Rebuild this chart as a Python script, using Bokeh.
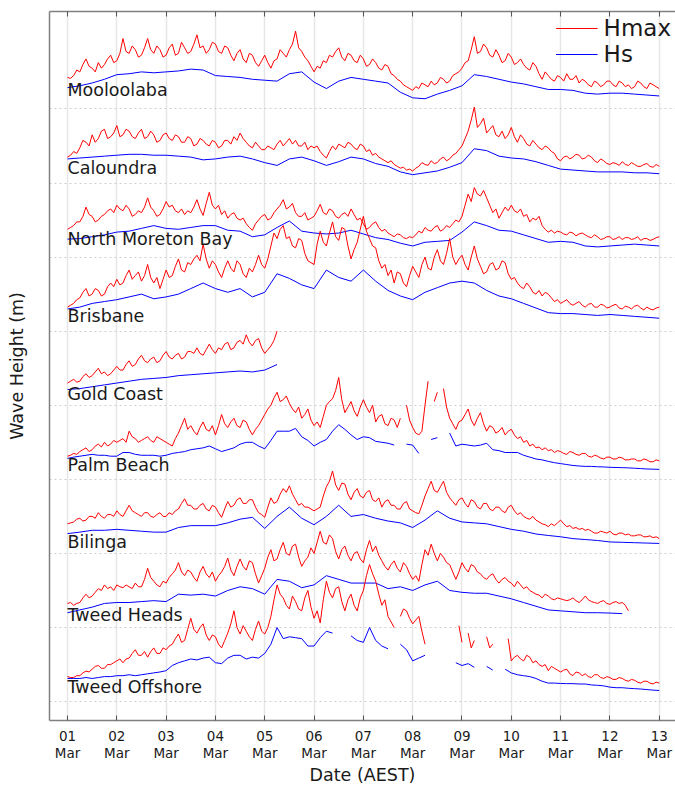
import numpy as np
from bokeh.plotting import figure
from bokeh.models import FixedTicker, LinearAxis, Range1d, CustomLabelingPolicy
from bokeh.core.properties import value
from bokeh.embed import file_html
from bokeh.resources import INLINE

nan = float("nan")

STATIONS = ["Mooloolaba", "Caloundra", "North Moreton Bay", "Brisbane", "Gold Coast",
            "Palm Beach", "Bilinga", "Tweed Heads", "Tweed Offshore"]
OFFSETS = [32, 28, 24, 20, 16, 12, 8, 4, 0]
LABEL_Y = [1.0, 0.8, 0.95, 0.8, 0.6, 0.75, 0.6, 0.65, 0.8]
GRID_Y = [0, 4, 8, 12, 16, 20, 24, 28, 32]
DAY_TICKS = list(range(13))
DAY_LABELS = ["01\nMar", "02\nMar", "03\nMar", "04\nMar", "05\nMar", "06\nMar", "07\nMar",
              "08\nMar", "09\nMar", "10\nMar", "11\nMar", "12\nMar", "13\nMar"]

# time step (days): Hmax every 1.5 h, Hs every 6 h (3 h for the stations listed)
HMAX_STEP = 0.0625
HS_STEP = 0.25
HS_STEP_3H = ["Palm Beach", "Tweed Offshore"]

# Hmax (m), 1.5-hourly from 01 Mar 00:00 (one row per day)
HMAX = {
    "Mooloolaba": [
        1.7, 1.65, 1.8, 2.1, 2.0, 2.4, 2.7, 2.3, 2.2, 2.0, 2.5, 2.2, 2.4, 2.7, 2.9, 2.5,
        2.6, 3.0, 3.8, 3.1, 3.0, 3.4, 3.2, 2.8, 2.9, 3.3, 3.8, 3.2, 3.0, 3.4, 3.2, 2.8,
        2.9, 3.3, 3.5, 2.9, 3.0, 3.6, 3.3, 3.0, 3.1, 3.5, 4.0, 3.3, 3.4, 3.0, 3.2, 3.6,
        3.5, 3.1, 3.0, 3.4, 3.3, 2.9, 2.6, 3.0, 3.2, 2.7, 2.5, 3.0, 2.9, 2.5, 2.3, 2.6,
        2.9, 2.5, 2.2, 2.6, 2.7, 3.2, 3.0, 2.8, 3.2, 3.5, 4.2, 3.3, 3.1, 2.8, 2.6, 2.3,
        2.0, 2.3, 2.2, 2.6, 2.5, 2.9, 2.8, 3.1, 3.3, 2.8, 2.6, 3.0, 2.9, 2.6, 2.5, 2.9,
        2.7, 2.3, 2.4, 2.7, 2.5, 2.2, 2.1, 2.4, 2.3, 1.9, 1.8, 1.6, 1.5, 1.3, 1.2, 1.1,
        1.0, 1.2, 1.1, 1.4, 1.3, 1.2, 1.5, 1.3, 1.4, 1.7, 1.6, 1.4, 1.5, 1.8, 1.9, 2.0,
        2.2, 2.5, 2.6, 3.2, 3.9, 3.0, 3.1, 3.5, 3.3, 2.9, 2.8, 3.2, 2.9, 2.5, 2.6, 3.0,
        2.8, 2.4, 2.5, 2.7, 2.4, 2.2, 2.1, 2.5, 2.3, 1.9, 1.6, 2.0, 1.8, 1.6, 1.5, 1.8,
        1.7, 1.5, 1.9, 1.6, 1.6, 1.8, 1.4, 1.6, 1.5, 1.3, 1.2, 1.5, 1.4, 1.2, 1.3, 1.5,
        1.5, 1.3, 1.2, 1.5, 1.4, 1.2, 1.3, 1.1, 1.2, 1.5, 1.4, 1.2, 1.1, 1.4, 1.3, 1.2,
        1.1],
    "Caloundra": [
        1.4, 1.5, 1.7, 1.6, 1.9, 2.3, 2.2, 2.0, 2.6, 2.2, 2.4, 2.8, 2.9, 2.4, 2.5, 2.7,
        3.1, 2.5, 2.6, 2.9, 2.8, 2.5, 2.4, 2.7, 2.9, 2.4, 2.5, 2.8, 2.6, 2.2, 2.3, 2.6,
        2.7, 2.4, 2.3, 2.6, 2.5, 2.2, 2.2, 2.5, 2.4, 2.0, 2.1, 2.4, 2.3, 2.1, 2.0, 2.3,
        2.2, 1.9, 2.0, 2.3, 2.3, 2.1, 2.5, 2.3, 2.7, 2.4, 2.2, 2.0, 1.9, 2.2, 2.0, 1.8,
        1.8, 2.0, 1.9, 1.8, 2.1, 2.3, 2.0, 2.2, 2.4, 2.1, 2.3, 2.0, 2.0, 2.2, 1.8, 2.0,
        1.9, 2.0, 1.7, 1.5, 1.35, 1.7, 2.0, 1.8, 2.1, 2.0, 1.9, 2.2, 2.1, 1.9, 1.8, 2.1,
        2.0, 1.7, 1.8, 1.5, 1.6, 1.4, 1.3, 1.2, 1.1, 1.2, 1.0, 0.9, 0.8, 0.85, 0.7, 0.75,
        0.65, 0.8, 0.9, 1.1, 1.0, 0.95, 1.2, 1.05, 1.1, 1.3, 1.4, 1.2, 1.3, 1.5, 1.6, 1.8,
        2.0, 2.4, 2.8, 3.4, 4.1, 3.0, 3.2, 3.5, 2.7, 2.9, 3.1, 2.6, 2.5, 2.8, 2.4, 2.6,
        3.0, 2.5, 2.2, 2.6, 2.4, 2.1, 2.0, 2.3, 2.1, 1.9, 1.8, 2.0, 1.9, 1.7, 1.6, 1.3,
        1.2, 1.4, 1.45, 1.3, 1.4, 1.55, 1.5, 1.3, 1.35, 1.5, 1.4, 1.2, 1.1, 1.3, 1.2, 1.05,
        1.0, 1.1, 1.05, 0.95, 1.15, 1.0, 0.95, 1.1, 1.0, 0.9, 0.9, 1.0, 1.05, 0.9, 0.85, 1.0,
        0.9],
    "North Moreton Bay": [
        1.5, 1.6, 1.7, 1.9, 1.9, 2.2, 2.7, 2.3, 2.2, 1.9, 2.0, 2.2, 2.3, 2.5, 2.6, 2.4,
        2.8, 2.6, 2.5, 2.8, 2.6, 2.2, 2.3, 2.5, 2.4, 2.7, 3.2, 2.7, 2.5, 2.2, 2.3, 2.6,
        3.0, 2.7, 2.8, 2.5, 2.4, 2.6, 2.3, 2.5, 2.4, 2.7, 3.1, 2.6, 2.25, 2.9, 3.5, 2.8,
        2.6, 2.8, 2.3, 2.5, 2.1, 2.3, 2.4, 2.1, 2.0, 2.1, 1.8, 1.6, 1.45, 1.8, 2.0, 2.2,
        2.3, 2.0, 2.1, 2.4, 2.6, 2.8, 3.1, 2.6, 2.7, 2.9, 2.4, 2.2, 2.2, 2.4, 2.0, 2.1,
        2.2, 2.5, 2.85, 2.4, 2.3, 2.6, 2.5, 2.2, 2.1, 2.3, 2.4, 2.2, 2.6, 2.3, 2.0, 2.1,
        1.8, 1.5, 1.6, 1.8, 1.9, 1.6, 1.4, 1.5, 1.3, 1.2, 1.1, 1.25, 1.2, 1.05, 1.0, 1.1,
        1.05, 1.2, 1.4, 1.3, 1.6, 1.45, 1.4, 1.6, 1.7, 1.4, 1.5, 1.7, 1.6, 1.8, 2.0, 1.9,
        2.2, 2.8, 3.4, 3.0, 3.75, 3.4, 3.3, 3.6, 3.2, 2.8, 2.4, 2.6, 2.1, 2.4, 2.7, 2.5,
        2.8, 2.5, 2.4, 2.6, 2.2, 2.3, 1.9, 2.1, 2.0, 2.2, 1.7, 1.5, 1.35, 1.45, 1.3, 1.4,
        1.35, 1.25, 1.2, 1.35, 1.3, 1.15, 1.25, 1.3, 1.2, 1.1, 1.05, 1.2, 1.1, 0.95, 1.0, 1.1,
        1.1, 0.95, 1.0, 1.1, 0.95, 1.05, 1.05, 0.95, 1.0, 1.1, 0.9, 1.0, 1.0, 0.9, 0.95, 1.05,
        1.1],
    "Brisbane": [
        1.3, 1.4, 1.5, 1.7, 1.8, 2.1, 2.3, 1.9, 2.0, 2.3, 2.2, 1.9, 2.0, 2.4, 2.6, 2.4,
        2.8, 2.5, 2.6, 3.0, 3.3, 2.8, 3.0, 3.2, 2.7, 3.0, 3.6, 2.9, 2.6, 2.9, 2.3, 2.8,
        3.3, 2.9, 3.0, 3.5, 3.9, 3.3, 3.2, 3.7, 3.6, 3.9, 4.1, 3.8, 4.7, 3.9, 3.4, 3.8,
        3.6, 3.2, 2.9, 3.4, 3.8, 3.4, 3.2, 3.8, 3.6, 3.1, 2.9, 3.4, 3.2, 3.6, 4.1, 3.6,
        3.4, 3.9, 4.6, 5.3, 5.0, 5.5, 5.7, 5.0, 5.1, 4.6, 4.5, 5.0, 4.9, 4.2, 3.8, 3.7,
        3.6, 4.7, 5.4, 4.8, 4.6, 5.3, 5.9, 5.1, 4.9, 5.6, 5.5, 4.6, 3.9, 4.4, 4.8, 5.5,
        6.2, 5.4, 5.0, 4.6, 4.5, 3.8, 3.4, 3.6, 3.0, 3.3, 2.6, 3.2, 3.1, 2.6, 2.4, 3.0,
        3.5, 3.2, 2.9, 3.6, 4.0, 3.4, 3.3, 4.0, 4.4, 3.8, 3.6, 4.2, 5.0, 4.0, 3.6, 3.9,
        4.1, 3.6, 3.3, 4.0, 4.6, 3.9, 3.5, 3.1, 3.2, 3.6, 3.7, 3.3, 3.4, 3.8, 3.7, 3.1,
        2.8, 2.9, 2.6, 2.4, 2.3, 2.6, 2.4, 2.1, 2.0, 2.2, 1.9, 2.1, 2.0, 1.8, 1.6, 1.7,
        1.5, 1.6, 1.7, 1.5, 1.4, 1.5, 1.6, 1.4, 1.3, 1.45, 1.5, 1.3, 1.3, 1.45, 1.4, 1.25,
        1.3, 1.4, 1.45, 1.25, 1.2, 1.35, 1.3, 1.2, 1.35, 1.4, 1.25, 1.15, 1.3, 1.2, 1.15, 1.25,
        1.3],
    "Gold Coast": [
        1.2, 1.3, 1.4, 1.25, 1.3, 1.55, 1.7, 1.5, 1.6, 1.8, 2.0, 1.7, 1.8, 1.6, 1.7, 1.9,
        2.1, 1.9, 1.9, 2.2, 2.4, 2.1, 2.2, 2.5, 2.7, 2.4, 2.3, 2.5, 2.6, 2.3, 2.4, 2.7,
        2.9, 2.6, 2.5, 2.7, 2.8, 2.5, 2.6, 2.9, 2.9, 2.8, 3.1, 2.8, 2.7, 3.0, 3.3, 3.0,
        2.8, 3.1, 3.0, 3.3, 3.4, 3.0, 3.1, 3.4, 3.5, 3.3, 3.8, 3.4, 3.2, 3.5, 3.6, 3.1,
        2.8, 3.0, 3.2, 3.5, 4.0],
    "Palm Beach": [
        1.25, 1.3, 1.4, 1.35, 1.5, 1.6, 1.7, 1.5, 1.6, 1.8, 1.9, 1.75, 2.0, 1.8, 1.9, 2.1,
        2.0, 2.1, 2.2, 2.0, 2.6, 2.3, 2.2, 2.0, 2.1, 2.2, 2.3, 2.1, 2.0, 2.3, 2.2, 2.1,
        2.0, 1.9, 1.8, 2.2, 2.5, 2.9, 3.3, 2.7, 2.9, 2.6, 2.4, 2.8, 3.1, 2.7, 2.6, 2.9,
        2.4, 2.9, 3.5, 3.0, 2.8, 3.1, 3.3, 2.9, 2.8, 3.2, 3.1, 2.7, 2.4, 2.7, 2.9, 3.2,
        3.5, 3.8, 4.0, 4.4, 4.7, 4.2, 4.3, 4.5, 4.1, 3.8, 3.6, 3.9, 3.3, 3.5, 3.8, 3.2,
        2.9, 3.1, 2.8, 3.4, 4.0, 4.2, 4.35, 4.8, 5.5, 4.3, 3.6, 3.9, 4.2, 3.7, 3.4, 3.9,
        4.3, 3.9, 3.6, 4.0, 3.1, 3.4, 3.5, 3.0, 2.9, 3.3, 3.2, 2.8, 3.3, nan, 4.0, 3.2,
        2.8, 2.5, 2.4, 2.6, 4.0, 5.3, nan, 4.2, 4.7, nan, 4.9, 3.9, 3.3, 3.0, 2.7, 3.1,
        3.2, 3.5, 3.8, 3.2, 2.9, 3.3, 3.6, 3.0, 2.6, 2.9, 2.8, 2.5, 2.6, 2.8, 2.4, 2.6,
        2.7, 2.4, 2.2, 2.3, 2.0, 2.1, 1.8, 1.9, 1.7, 1.75, 1.6, 1.7, 1.55, 1.6, 1.45, 1.55,
        1.5, 1.4, 1.35, 1.5, 1.45, 1.35, 1.3, 1.4, 1.4, 1.25, 1.2, 1.3, 1.25, 1.15, 1.1, 1.2,
        1.2, 1.1, 1.1, 1.2, 1.15, 1.05, 1.05, 1.1, 1.1, 1.0, 1.0, 1.1, 1.05, 0.95, 0.95, 1.05,
        1.0],
    "Bilinga": [
        1.6, 1.65, 1.7, 1.85, 1.9, 1.75, 1.8, 2.0, 2.0, 1.9, 2.2, 2.0, 1.9, 2.1, 2.1, 2.0,
        2.3, 2.1, 2.0, 2.3, 2.6, 2.3, 2.2, 2.1, 2.0, 2.2, 2.2, 2.0, 1.95, 2.1, 2.2, 2.0,
        2.0, 2.2, 2.1, 2.3, 2.4, 2.7, 2.95, 2.6, 2.6, 2.4, 2.4, 2.6, 2.7, 2.4, 2.3, 2.6,
        2.5, 2.2, 1.95, 2.4, 2.8, 2.5, 2.6, 2.9, 3.0, 2.7, 2.7, 2.9, 2.9, 2.5, 2.2, 2.1,
        1.95, 2.5, 3.0, 2.7, 2.8, 3.2, 3.5, 3.3, 3.65, 3.2, 2.9, 2.6, 2.7, 2.5, 2.5, 2.4,
        2.3, 2.4, 2.5, 3.1, 3.6, 3.9, 4.45, 3.7, 3.4, 3.8, 3.75, 3.2, 2.9, 3.3, 3.5, 3.1,
        3.0, 3.3, 3.4, 2.9, 2.8, 3.0, 2.5, 2.8, 2.9, 2.6, 2.6, 2.4, 2.4, 2.7, 2.8, 2.4,
        2.3, 2.2, 2.15, 2.6, 3.1, 3.5, 3.9, 3.4, 3.3, 3.6, 3.9, 3.3, 3.0, 2.8, 2.6, 2.9,
        3.0, 2.7, 2.5, 2.9, 2.8, 2.5, 2.4, 2.7, 2.7, 2.4, 2.3, 2.5, 2.5, 2.3, 2.2, 2.5,
        2.6, 2.3, 2.1, 2.2, 2.0, 1.9, 1.85, 2.0, 1.8, 1.7, 1.6, 1.55, 1.45, 1.6, 1.5, 1.65,
        1.8, 1.6, 1.45, 1.5, 1.35, 1.4, 1.3, 1.35, 1.25, 1.3, 1.2, 1.1, 1.1, 1.2, 1.15, 1.1,
        1.2, 1.05, 1.0, 1.1, 1.1, 1.0, 1.05, 0.95, 0.95, 1.0, 1.0, 0.9, 0.9, 0.95, 0.85, 0.9,
        0.8],
    "Tweed Heads": [
        1.3, 1.35, 1.2, 1.3, 1.35, 1.6, 1.8, 1.6, 1.7, 1.9, 2.1, 2.0, 2.3, 2.1, 2.2, 2.0,
        2.3, 2.2, 2.15, 2.3, 2.2, 2.1, 2.4, 2.2, 2.2, 2.6, 3.2, 2.7, 2.5, 2.3, 2.2, 2.5,
        2.4, 2.7, 2.9, 3.1, 3.5, 3.0, 2.8, 3.1, 3.0, 2.7, 2.5, 3.0, 3.3, 2.9, 2.7, 3.0,
        2.5, 2.8, 3.0, 3.3, 3.75, 3.1, 2.8, 3.3, 3.7, 3.3, 3.1, 3.6, 3.5, 2.9, 2.4, 2.8,
        3.2, 3.8, 4.2, 3.6, 3.7, 4.2, 4.6, 4.0, 3.9, 4.4, 4.5, 3.8, 3.3, 3.6, 3.8, 4.3,
        4.0, 4.6, 5.2, 4.6, 4.5, 5.0, 4.8, 4.1, 3.7, 4.2, 4.4, 3.9, 3.6, 4.0, 4.1, 3.7,
        3.5, 4.2, 4.7, 4.1, 4.4, 3.9, 3.6, 3.3, 3.1, 3.4, 3.6, 3.2, 3.0, 3.5, 3.3, 2.9,
        2.6, 2.8, 2.5, 3.4, 4.2, 3.9, 4.5, 4.0, 3.6, 4.0, 3.8, 3.5, 3.4, 3.0, 2.6, 3.0,
        3.5, 3.2, 3.0, 3.4, 3.3, 3.0, 2.9, 2.7, 2.6, 2.8, 2.9, 2.6, 2.4, 2.6, 2.7, 2.5,
        2.4, 2.2, 2.5, 2.3, 2.1, 2.2, 2.0, 1.9, 1.8, 1.75, 1.6, 1.8, 1.7, 1.55, 1.5, 1.6,
        1.55, 1.5, 1.45, 1.5, 1.6, 1.45, 1.35, 1.5, 1.7, 1.5, 1.4, 1.35, 1.3, 1.4, 1.45, 1.3,
        1.25, 1.35, 1.4, 1.3, 1.35, 1.2, 0.9],
    "Tweed Offshore": [
        1.35, 1.3, 1.3, 1.4, 1.4, 1.55, 1.65, 1.6, 1.75, 1.9, 1.95, 1.8, 1.8, 2.0, 2.0, 2.1,
        2.2, 2.3, 2.1, 2.3, 2.35, 2.6, 2.8, 2.5, 2.5, 2.7, 2.4, 2.7, 2.9, 2.6, 2.6, 2.9,
        2.8, 3.0, 3.1, 3.4, 3.65, 3.2, 3.3, 3.9, 4.5, 3.9, 3.7, 4.0, 4.2, 3.6, 3.3, 3.6,
        3.5, 3.1, 2.9, 3.3, 3.7, 4.2, 4.9, 4.0, 3.65, 4.1, 3.8, 3.5, 3.3, 3.9, 4.35, 3.8,
        3.65, 4.0, 4.6, 5.5, 6.3, 5.8, 5.6, 5.2, 5.0, 5.7, 5.4, 5.0, 4.9, 5.6, 6.0, 5.1,
        4.5, 4.9, 4.25, 5.5, 6.5, 5.9, 5.6, 6.1, 6.2, 5.4, 4.9, 5.5, 5.8, 5.2, 4.9, 5.6,
        6.0, 6.8, 7.4, 6.9, 6.5, 5.8, 5.2, 5.5, 4.6, 4.3, 4.0, nan, 4.6, 5.0, 4.9, 4.5,
        4.2, 4.4, 4.6, 3.8, 3.1, nan, nan, nan, nan, nan, nan, nan, nan, nan, nan, 4.1,
        3.2, nan, 3.7, 2.9, 3.3, nan, nan, nan, 3.5, 2.9, 3.1, nan, nan, nan, nan, 3.4,
        2.2, 2.4, 2.5, 2.3, 2.2, 2.5, 2.4, 2.1, 2.2, 2.0, 1.9, 2.0, 1.67, 1.9, 1.8, 1.7,
        1.6, 1.7, 1.75, 1.5, 1.4, 1.6, 1.55, 1.4, 1.5, 1.35, 1.3, 1.45, 1.45, 1.3, 1.25, 1.35,
        1.3, 1.2, 1.2, 1.3, 1.25, 1.15, 1.1, 1.2, 1.15, 1.05, 1.0, 1.1, 1.1, 1.0, 0.95, 1.05,
        1.0],
}

# Hs (m), 6-hourly from 01 Mar 00:00 (3-hourly for the stations in HS_STEP_3H)
HS = {
    "Mooloolaba": [
        1.15, 1.25, 1.4, 1.6, 1.85, 1.9, 2.0, 1.95, 2.0, 2.05, 2.15, 2.1,
        1.8, 1.75, 1.7, 1.6, 1.55, 1.5, 1.9, 2.0, 1.45, 1.1, 1.5, 1.7,
        1.6, 1.5, 1.4, 0.9, 0.6, 0.55, 0.8, 1.0, 1.25, 1.85, 1.75, 1.6,
        1.45, 1.35, 1.2, 1.05, 1.05, 1.0, 0.85, 0.8, 0.85, 0.85, 0.8, 0.75,
        0.7],
    "Caloundra": [
        1.3, 1.35, 1.4, 1.45, 1.5, 1.55, 1.55, 1.5, 1.5, 1.45, 1.4, 1.25,
        1.3, 1.4, 1.45, 1.3, 1.1, 0.95, 1.3, 1.4, 1.2, 0.95, 1.15, 1.4,
        1.3, 1.05, 0.9, 0.6, 0.45, 0.55, 0.65, 0.85, 1.1, 1.85, 1.75, 1.45,
        1.35, 1.3, 1.15, 0.95, 0.75, 0.7, 0.65, 0.6, 0.6, 0.6, 0.55, 0.55,
        0.5],
    "North Moreton Bay": [
        0.97, 1.0, 1.1, 1.2, 1.35, 1.4, 1.55, 1.7, 1.55, 1.5, 1.6, 1.7,
        1.7, 1.45, 1.4, 1.1, 1.2, 1.6, 1.95, 1.4, 1.3, 1.25, 1.3, 1.45,
        1.25, 1.05, 0.95, 0.75, 0.6, 0.8, 0.85, 0.9, 1.35, 1.9, 1.7, 1.45,
        1.4, 1.2, 1.0, 0.8, 0.85, 0.8, 0.6, 0.55, 0.6, 0.65, 0.7, 0.65,
        0.6],
    "Brisbane": [
        1.2, 1.3, 1.5, 1.6, 1.7, 1.85, 2.0, 1.75, 1.85, 2.0, 2.3, 2.6,
        2.3, 2.1, 2.3, 1.85, 2.1, 3.1, 2.85, 2.5, 2.3, 3.3, 2.9, 2.7,
        3.3, 2.7, 2.2, 1.9, 1.7, 2.1, 2.35, 2.6, 2.7, 2.6, 2.2, 1.9,
        1.75, 1.5, 1.25, 1.0, 0.95, 0.95, 0.9, 0.85, 0.9, 0.85, 0.8, 0.75,
        0.7],
    "Gold Coast": [
        0.85, 0.9, 1.0, 1.1, 1.2, 1.3, 1.4, 1.45, 1.5, 1.6, 1.65, 1.7,
        1.75, 1.8, 1.85, 1.8, 1.9, 2.2],
    "Palm Beach": [
        1.13, 1.2, 1.25, 1.3, 1.35, 1.3, 1.3, 1.25,
        1.25, 1.45, 1.45, 1.35, 1.3, 1.3, 1.3, 1.25,
        1.3, 1.4, 1.45, 1.5, 1.6, 1.65, 1.7, 1.8,
        1.65, 1.5, 1.6, 1.7, 1.9, 2.0, 2.0, 1.8,
        1.65, 2.1, 2.6, 2.6, 2.6, 2.75, 2.3, 2.1,
        1.8, 2.0, 2.15, 2.6, 2.95, 2.7, 2.4, 2.15,
        2.3, 2.25, 2.05, 2.0, 1.95, 1.85, nan, 1.9,
        1.85, 1.4, nan, 2.15, 2.25, nan, 2.5, 1.8,
        1.9, 1.85, 1.8, 1.85, 1.95, 1.6, 1.55, 1.45,
        1.45, 1.45, 1.3, 1.2, 1.1, 1.05, 0.97, 0.9,
        0.85, 0.8, 0.75, 0.72, 0.7, 0.7, 0.68, 0.67,
        0.65, 0.64, 0.63, 0.62, 0.6, 0.58, 0.56, 0.55,
        0.54],
    "Bilinga": [
        1.07, 1.15, 1.25, 1.25, 1.3, 1.25, 1.2, 1.15, 1.15, 1.4, 1.5, 1.5,
        1.5, 1.65, 1.85, 1.95, 1.35, 2.0, 2.5, 1.9, 1.55, 2.0, 2.6, 2.0,
        2.1, 1.9, 1.75, 1.65, 1.4, 1.8, 2.3, 1.9, 1.7, 1.65, 1.6, 1.45,
        1.3, 1.2, 1.05, 0.97, 0.9, 0.8, 0.75, 0.7, 0.62, 0.6, 0.58, 0.56,
        0.54],
    "Tweed Heads": [
        0.8, 0.95, 1.1, 1.3, 1.35, 1.35, 1.4, 1.45, 1.4, 1.8, 1.75, 1.8,
        1.7, 2.0, 2.2, 2.1, 1.8, 2.6, 2.5, 2.15, 2.3, 2.8, 2.6, 2.4,
        2.4, 2.4, 2.1, 2.2, 2.0, 2.3, 2.5, 2.0, 1.9, 1.85, 1.85, 1.7,
        1.55, 1.35, 1.15, 0.95, 0.9, 0.85, 0.8, 0.8, 0.78, 0.75],
    "Tweed Offshore": [
        1.25, 1.25, 1.25, 1.3, 1.25, 1.3, 1.35, 1.35,
        1.4, 1.4, 1.45, 1.4, 1.45, 1.5, 1.55, 1.6,
        1.67, 1.95, 2.1, 2.2, 2.3, 2.25, 2.35, 2.4,
        2.1, 2.05, 2.35, 2.5, 2.5, 2.3, 2.4, 2.35,
        2.6, 3.1, 4.0, 3.4, 3.5, 3.45, 3.4, 3.0,
        3.0, 3.45, 3.8, 3.7, nan, nan, 3.55, 3.3,
        3.2, 4.0, 3.3, 3.0, 2.85, nan, 3.1, 2.8,
        2.2, 2.35, 2.5, nan, nan, nan, nan, 2.1,
        1.95, 2.05, 1.85, nan, 1.9, 1.7, nan, 1.75,
        1.55, 1.45, 1.4, 1.35, 1.25, 1.1, 1.0, 1.0,
        0.98, 0.97, 0.97, 0.95, 0.95, 0.9, 0.88, 0.85,
        0.78, 0.75, 0.75, 0.72, 0.7, 0.68, 0.65, 0.62,
        0.6],
}

FONT = "DejaVu Sans"
TEXT = "#1a1a1a"
SPINE = "#808080"

p = figure(width=675, height=787, output_backend="svg", toolbar_location=None,
           x_range=Range1d(-0.365, 12.33), y_range=Range1d(-1.02, 37.26),
           min_border_left=49, min_border_right=0, min_border_top=8, min_border_bottom=66)
p.outline_line_color = None
p.background_fill_color = "white"
p.border_fill_color = "white"

for i, name in enumerate(STATIONS):
    off = OFFSETS[i]
    hm = np.array(HMAX[name], dtype=float)
    th = np.arange(len(hm)) * HMAX_STEP
    hs = np.array(HS[name], dtype=float)
    step = 0.125 if name in HS_STEP_3H else HS_STEP
    ts = np.arange(len(hs)) * step
    kw_r = dict(legend_label="Hmax") if i == 0 else {}
    kw_b = dict(legend_label="Hs") if i == 0 else {}
    p.line(th, hm + off, line_color="#ff0000", line_width=1, **kw_r)
    p.line(ts, hs + off, line_color="#0000ff", line_width=1, **kw_b)

p.text(x=[0] * len(STATIONS), y=[o + l for o, l in zip(OFFSETS, LABEL_Y)], text=STATIONS,
       text_font=value(FONT), text_font_size="17.5px", text_color=TEXT,
       text_align="left", text_baseline="middle")

# x axis (bottom)
xa = p.xaxis[0]
xa.ticker = FixedTicker(ticks=DAY_TICKS)
xa.major_label_overrides = {t: lbl for t, lbl in zip(DAY_TICKS, DAY_LABELS)}
xa.major_tick_in = 5
xa.major_tick_out = 0
xa.minor_tick_line_color = None
xa.axis_line_color = SPINE
xa.axis_line_width = 1.5
xa.major_tick_line_color = "#555555"
xa.major_label_text_font = FONT
xa.major_label_text_font_size = "13.5px"
xa.major_label_text_color = TEXT
xa.major_label_text_line_height = 1.07
xa.major_label_standoff = 7
xa.axis_label = "Date (AEST)"
xa.axis_label_text_font = FONT
xa.axis_label_text_font_size = "17.5px"
xa.axis_label_text_font_style = "normal"
xa.axis_label_text_color = TEXT
xa.axis_label_standoff = 1

# y axis (left), no ticks or labels
ya = p.yaxis[0]
ya.ticker = FixedTicker(ticks=[])
ya.major_tick_line_color = None
ya.minor_tick_line_color = None
ya.axis_line_color = SPINE
ya.axis_line_width = 1.5
ya.axis_label = "Wave Height (m)"
ya.axis_label_text_font = FONT
ya.axis_label_text_font_size = "17.5px"
ya.axis_label_text_font_style = "normal"
ya.axis_label_text_color = TEXT
ya.axis_label_standoff = 23

# top spine with inward ticks and no labels
no_labels = CustomLabelingPolicy(code="return new Set()")
top = LinearAxis(ticker=FixedTicker(ticks=DAY_TICKS), major_label_policy=no_labels,
                 major_label_standoff=0, major_tick_in=5, major_tick_out=0,
                 minor_tick_line_color=None, axis_line_color=SPINE, axis_line_width=1.5,
                 major_tick_line_color="#555555")
p.add_layout(top, "above")

# grids
p.xgrid.ticker = FixedTicker(ticks=DAY_TICKS)
p.xgrid.grid_line_color = "#e6e6e6"
p.xgrid.grid_line_width = 1.5
p.ygrid.ticker = FixedTicker(ticks=GRID_Y)
p.ygrid.grid_line_color = "#cfcfcf"
p.ygrid.grid_line_dash = "2 3"
p.ygrid.grid_line_width = 1

# legend
lg = p.legend[0]
lg.location = "top_right"
lg.border_line_color = None
lg.background_fill_alpha = 0
lg.label_text_font = FONT
lg.label_text_font_size = "23px"
lg.label_text_color = TEXT
lg.glyph_width = 42
lg.glyph_height = 26
lg.label_standoff = 6
lg.spacing = 0
lg.padding = 4
lg.margin = 4

open("out.html", "w").write(file_html(p, INLINE))
